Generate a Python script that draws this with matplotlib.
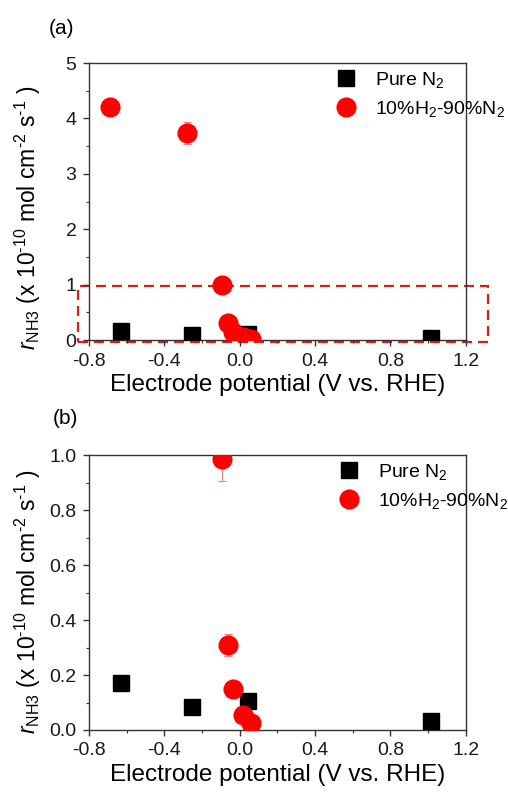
import matplotlib
matplotlib.use("Agg")
import matplotlib.pyplot as plt
from matplotlib.patches import Rectangle
from matplotlib.ticker import MultipleLocator, FormatStrFormatter

# NH3 formation rate vs. electrode potential
pure_n2_x = [-0.63, -0.255, 0.045, 1.014]
pure_n2_y = [0.17, 0.085, 0.105, 0.033]

h2_n2_x = [-0.69, -0.28, -0.096, -0.061, -0.034, 0.015, 0.058]
h2_n2_y = [4.2, 3.73, 0.985, 0.311, 0.15, 0.054, 0.024]
h2_n2_err = [0.05, 0.2, 0.08, 0.04, 0.015, 0.01, 0.008]

xtick_vals = [-0.8, -0.4, 0.0, 0.4, 0.8, 1.2]
xtick_labels = ['-0.8', '-0.4', '0.0', '0.4', '0.8', '1.2']

font = 'Liberation Sans'
plt.rcParams['font.family'] = font
plt.rcParams['mathtext.fontset'] = 'custom'
plt.rcParams['mathtext.rm'] = font
plt.rcParams['mathtext.it'] = font + ':italic'

ylabel = (r'$\it{r}$$_{\rm NH3}$ (x 10$^{\text{-10}}$ mol cm$^{\text{-2}}$ '
          r's$^{\text{-1}}$ )')


def draw_panel(ax, ymax, ymajor, yminor, yfmt, tag, tag_xy, ylab_y, leg_anchor):
    ax.errorbar(h2_n2_x, h2_n2_y, yerr=h2_n2_err, fmt='none', ecolor='#e88080',
                elinewidth=0.8, capsize=3, capthick=0.8, zorder=2)
    ax.plot(pure_n2_x, pure_n2_y, 's', color='black', markersize=12,
            label='Pure N$_2$', zorder=3)
    ax.plot(h2_n2_x, h2_n2_y, 'o', color='#ff0000', markersize=13.5,
            label='10%H$_2$-90%N$_2$', zorder=4)

    ax.set_xlim(-0.8, 1.2)
    ax.set_ylim(0, ymax)
    ax.set_xticks(xtick_vals)
    ax.set_xticklabels(xtick_labels)
    ax.xaxis.set_minor_locator(MultipleLocator(0.2))
    ax.yaxis.set_major_locator(MultipleLocator(ymajor))
    ax.yaxis.set_minor_locator(MultipleLocator(yminor))
    ax.yaxis.set_major_formatter(FormatStrFormatter(yfmt))
    ax.tick_params(which='both', direction='out', top=False, right=False,
                   colors='#333333', labelcolor='#1a1a1a')
    ax.tick_params(which='major', length=4, width=1, labelsize=14, pad=5)
    ax.tick_params(which='minor', length=2.5, width=0.8)
    for sp in ax.spines.values():
        sp.set_color('#333333')
        sp.set_linewidth(1)

    ax.set_xlabel('Electrode potential (V vs. RHE)', fontsize=17.5, labelpad=3)
    ax.set_ylabel(ylabel, fontsize=16.5)
    ax.yaxis.set_label_coords(-0.122, ylab_y)
    ax.text(tag_xy[0], tag_xy[1], tag, transform=ax.transAxes, fontsize=15,
            va='center', ha='center')

    leg = ax.legend(loc='upper left', bbox_to_anchor=leg_anchor, frameon=False,
                    borderpad=0, borderaxespad=0, handlelength=1.0,
                    handletextpad=1.0, labelspacing=0.45,
                    prop={'size': 14})
    leg.set_zorder(5)


fig = plt.figure(figsize=(5.08, 7.92), dpi=100)
ax_a = fig.add_axes([0.175, 0.5707, 0.742, 0.3497])
ax_b = fig.add_axes([0.175, 0.0783, 0.742, 0.347])

draw_panel(ax_a, 5, 1, 0.5, '%d', '(a)', (-0.072, 1.123), 0.442, (0.655, 0.975))
draw_panel(ax_b, 1.0, 0.2, 0.1, '%.1f', '(b)', (-0.061, 1.133), 0.467, (0.665, 0.975))

# dashed box marking the low-rate region shown in (b)
ax_a.add_patch(Rectangle((-0.858, -0.04), 2.175, 1.01, fill=False,
                         edgecolor='#dd1c1c', linestyle=(0, (4.5, 2.7)),
                         linewidth=1.6, clip_on=False, zorder=1))

fig.savefig('out.png', dpi=100)
